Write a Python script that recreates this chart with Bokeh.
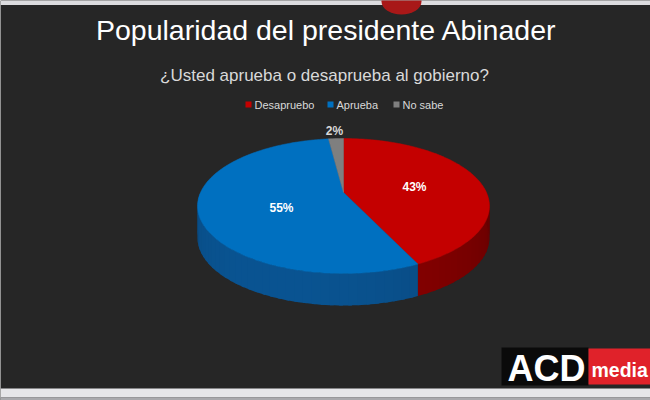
import math
from bokeh.plotting import figure
from bokeh.models import Range1d
from bokeh.core.properties import value
from bokeh.embed import file_html
from bokeh.resources import INLINE

# ---- data ----
title_text = "Popularidad del presidente Abinader"
subtitle_text = "¿Usted aprueba o desaprueba al gobierno?"
categories = ["Desapruebo", "Aprueba", "No sabe"]
values = [43, 55, 2]
value_labels = ["43%", "55%", "2%"]
top_colors = ["#c40000", "#0070c0", "#7f7f7f"]
side_colors = [(140, 0, 0), (10, 84, 146), (100, 100, 100)]

FONT = value("Liberation Sans")
BG = "#262626"

p = figure(width=650, height=400, output_backend="svg", toolbar_location=None,
           x_range=Range1d(0, 650), y_range=Range1d(400, 0), min_border=0)
p.axis.visible = False
p.grid.visible = False
p.outline_line_color = None
p.background_fill_color = BG
p.border_fill_color = BG

# top and bottom light strips
p.quad(left=[0], right=[650], top=[0], bottom=[4.5], fill_color="#dcdcdf", line_color=None)
p.quad(left=[0], right=[650], top=[388], bottom=[397], fill_color="#e6e6e9", line_color=None)
p.quad(left=[0], right=[650], top=[397], bottom=[400], fill_color="#a9a9ad", line_color=None)
# red artifact at top
p.ellipse(x=[401], y=[1], width=[40], height=[26], fill_color="#a81818", line_color=None)

# ---- 3D pie geometry (perspective) ----
cx, cy = 343.0, 192.0
A, B, K = 143.0, 64.8, 0.2
DEPTH = 32.0

def proj(theta_deg, dy=0.0):
    t = math.radians(theta_deg)
    u, v = math.cos(t), math.sin(t)
    d = 1 + K * v
    return cx + A * u / d, cy + dy - B * v / d

total = float(sum(values))
starts, ends = [], []
acc = 0.0
for v in values:
    s = 90 - 360 * acc / total
    acc += v
    e = 90 - 360 * acc / total
    starts.append(s)
    ends.append(e)

# side strips (visible front half: -180..0 degrees)
sx, sy, sc = [], [], []
for i in range(len(values)):
    lo, hi = ends[i], starts[i]
    for shift in (0, -360, 360):
        a0 = max(lo + shift, -180.0)
        a1 = min(hi + shift, 0.0)
        if a1 <= a0:
            continue
        n = max(1, int(math.ceil((a1 - a0) / 3.0)))
        for j in range(n):
            t0 = a0 + (a1 - a0) * j / n
            t1 = a0 + (a1 - a0) * (j + 1) / n
            tm = 0.5 * (t0 + t1)
            t1e = min(t1 + 1.2, a1)
            f = 0.80 + 0.20 * math.cos(math.radians(tm + 115))
            r, g, b = side_colors[i]
            col = "#%02x%02x%02x" % (int(r * f), int(g * f), int(b * f))
            pts_top = [proj(t0 + (t1e - t0) * k / 3) for k in range(4)]
            pts_bot = [proj(t1e - (t1e - t0) * k / 3, DEPTH) for k in range(4)]
            pts = pts_top + pts_bot
            sx.append([q[0] for q in pts])
            sy.append([q[1] for q in pts])
            sc.append(col)
p.patches(xs=sx, ys=sy, fill_color=sc, line_color=None)

# top face wedges
tx, ty = [], []
for i in range(len(values)):
    n = max(2, int(abs(starts[i] - ends[i]) / 1.5))
    pts = [(cx, cy)] + [proj(starts[i] + (ends[i] - starts[i]) * k / n) for k in range(n + 1)]
    tx.append([q[0] for q in pts])
    ty.append([q[1] for q in pts])
p.patches(xs=tx, ys=ty, fill_color=top_colors, line_color=top_colors, line_width=0.5)

# data labels
lab_x = [414, 281, 334]
lab_y = [186, 207, 130]
p.text(x=lab_x, y=lab_y, text=value_labels, text_color=["#ffffff", "#ffffff", "#d9d9d9"],
       text_font=FONT, text_font_size="12px", text_font_style="bold",
       text_align="center", text_baseline="middle")

# titles
p.text(x=[326], y=[29], text=[title_text], text_color="#ffffff", text_font=FONT,
       text_font_size="28.5px", text_align="center", text_baseline="middle")
p.text(x=[324], y=[75], text=[subtitle_text], text_color="#d9d9d9", text_font=FONT,
       text_font_size="17px", text_align="center", text_baseline="middle")

# legend
leg_mx = [248, 330, 396]
p.scatter(x=leg_mx, y=[104] * 3, marker="square", size=6, fill_color=top_colors, line_color=None)
p.text(x=[m + 6 for m in leg_mx], y=[104] * 3, text=categories, text_color="#d9d9d9",
       text_font=FONT, text_font_size="11px", text_align="left", text_baseline="middle")

# logo
p.quad(left=[501], right=[588], top=[347], bottom=[385], fill_color="#0a0a0a", line_color=None)
p.quad(left=[588], right=[650], top=[348], bottom=[384], fill_color="#e0222a", line_color=None)
p.text(x=[546], y=[368], text=["ACD"], text_color="#ffffff", text_font=FONT,
       text_font_size="36px", text_font_style="bold", text_align="center", text_baseline="middle")
p.text(x=[591], y=[369], text=["media"], text_color="#ffffff", text_font=FONT,
       text_font_size="19.5px", text_font_style="bold", text_align="left", text_baseline="middle")

open("out.html", "w").write(file_html(p, INLINE))
